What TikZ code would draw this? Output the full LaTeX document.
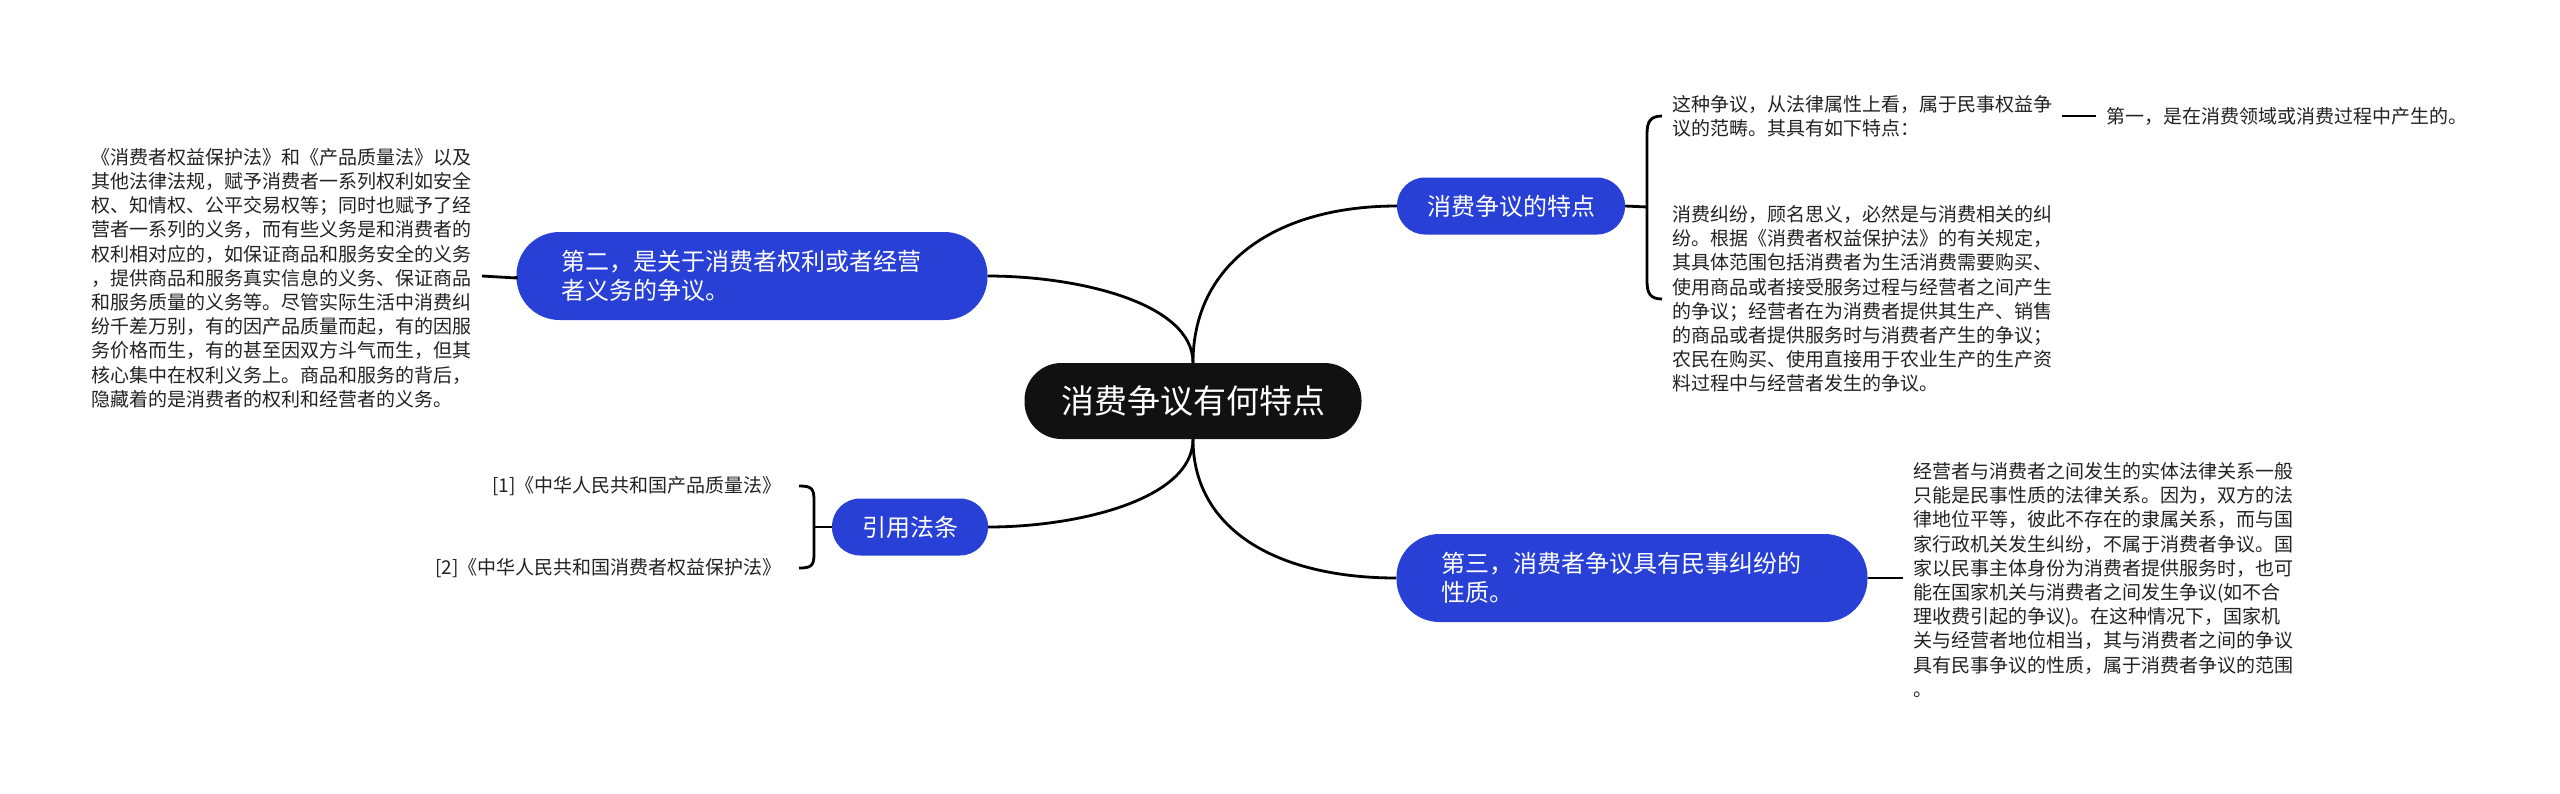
\documentclass[tikz,border=0pt]{standalone}
\usepackage{fontspec}
\setmainfont{Noto Sans CJK SC}
\usetikzlibrary{calc}
\definecolor{nodeblue}{HTML}{2840D6}
\definecolor{rootblack}{HTML}{111111}
\definecolor{txtgray}{HTML}{222222}
\begin{document}
\begin{tikzpicture}[x=1pt,y=-1pt,
  conn/.style={line width=2.8pt, draw=black},
  rootbox/.style={fill=rootblack, text=white, rounded corners=37pt, font=\fontsize{33}{38}\selectfont, minimum width=337pt, minimum height=76pt, inner sep=0pt},
  bluebox/.style={fill=nodeblue, text=white, rounded corners=28pt, font=\fontsize{24}{29}\selectfont, inner xsep=30pt, inner ysep=0pt, minimum height=57pt},
  bluewide/.style={fill=nodeblue, text=white, rounded corners=43pt, font=\fontsize{24}{29}\selectfont, text width=381pt, align=left, inner xsep=45pt, inner ysep=0pt, minimum height=88pt},
  plaintext/.style={text=txtgray, font=\fontsize{19}{24.2}\selectfont, align=left, inner xsep=10pt, inner ysep=0pt},
  citetext/.style={text=txtgray, font=\fontsize{19}{24.2}\selectfont, align=right, inner xsep=17pt, inner ysep=0pt}
]
\useasboundingbox (0,0) rectangle (2560,793);

% main nodes
\node[rootbox] (root) at (1193,401) {消费争议有何特点};
\node[bluebox] (td) at (1511,206) {消费争议的特点};
\node[bluewide] (ss) at (1632,578) {第三，消费者争议具有民事纠纷的\\性质。};
\node[bluewide] (er) at (752,276) {第二，是关于消费者权利或者经营\\者义务的争议。};
\node[bluebox] (yf) at (910,527) {引用法条};

% text children
\node[plaintext, anchor=east] (lt) at (482,278) {《消费者权益保护法》和《产品质量法》以及\\其他法律法规，赋予消费者一系列权利如安全\\权、知情权、公平交易权等；同时也赋予了经\\营者一系列的义务，而有些义务是和消费者的\\权利相对应的，如保证商品和服务安全的义务\\，提供商品和服务真实信息的义务、保证商品\\和服务质量的义务等。尽管实际生活中消费纠\\纷千差万别，有的因产品质量而起，有的因服\\务价格而生，有的甚至因双方斗气而生，但其\\核心集中在权利义务上。商品和服务的背后，\\隐藏着的是消费者的权利和经营者的义务。};

\node[plaintext, anchor=west] (c1) at (1662,116) {这种争议，从法律属性上看，属于民事权益争\\议的范畴。其具有如下特点：};
\node[plaintext, anchor=west] (c2) at (1662,299) {消费纠纷，顾名思义，必然是与消费相关的纠\\纷。根据《消费者权益保护法》的有关规定，\\其具体范围包括消费者为生活消费需要购买、\\使用商品或者接受服务过程与经营者之间产生\\的争议；经营者在为消费者提供其生产、销售\\的商品或者提供服务时与消费者产生的争议；\\农民在购买、使用直接用于农业生产的生产资\\料过程中与经营者发生的争议。};
\node[plaintext, anchor=west] (yi) at (2096,116) {第一，是在消费领域或消费过程中产生的。};

\node[plaintext, anchor=west] (sc) at (1903,580) {经营者与消费者之间发生的实体法律关系一般\\只能是民事性质的法律关系。因为，双方的法\\律地位平等，彼此不存在的隶属关系，而与国\\家行政机关发生纠纷，不属于消费者争议。国\\家以民事主体身份为消费者提供服务时，也可\\能在国家机关与消费者之间发生争议(如不合\\理收费引起的争议)。在这种情况下，国家机\\关与经营者地位相当，其与消费者之间的争议\\具有民事争议的性质，属于消费者争议的范围\\。};

\node[citetext, anchor=east] (r1) at (799,486) {[1]《中华人民共和国产品质量法》};
\node[citetext, anchor=east] (r2) at (799,568) {[2]《中华人民共和国消费者权益保护法》};

% root connectors
\draw[conn] (root.north) .. controls +(0,-100) and +(-120,0) .. (td.west);
\draw[conn] (root.north) .. controls +(0,-60) and +(90,0) .. (er.east);
\draw[conn] (root.south) .. controls +(0,90) and +(-120,0) .. (ss.west);
\draw[conn] (root.south) .. controls +(0,60) and +(90,0) .. (yf.east);

% simple connectors
\draw[conn] (er.west) -- (lt.east -| er.west) -- (lt.east |- er.west);
\draw[conn] (ss.east) -- (sc.west |- ss.east);
\draw[conn] (c1.east) -- (yi.west);

% bracket for td
\coordinate (tbm) at (1647,207);
\coordinate (tbt) at (1647,134);
\coordinate (tbb) at (1647,281);
\draw[conn] (td.east) -- (tbm);
\draw[conn] (c1.west) .. controls +(-12,0) and +(0,-12) .. (tbt) -- (tbb) .. controls +(0,12) and +(-12,0) .. (c2.west);

% bracket for yf
\coordinate (ybm) at (814,527);
\coordinate (ybt) at (814,500);
\coordinate (ybb) at (814,554);
\draw[conn] (ybm) -- (yf.west);
\draw[conn] (r1.east) .. controls +(12,0) and +(0,-12) .. (ybt) -- (ybb) .. controls +(0,12) and +(12,0) .. (r2.east);
\end{tikzpicture}
\end{document}
